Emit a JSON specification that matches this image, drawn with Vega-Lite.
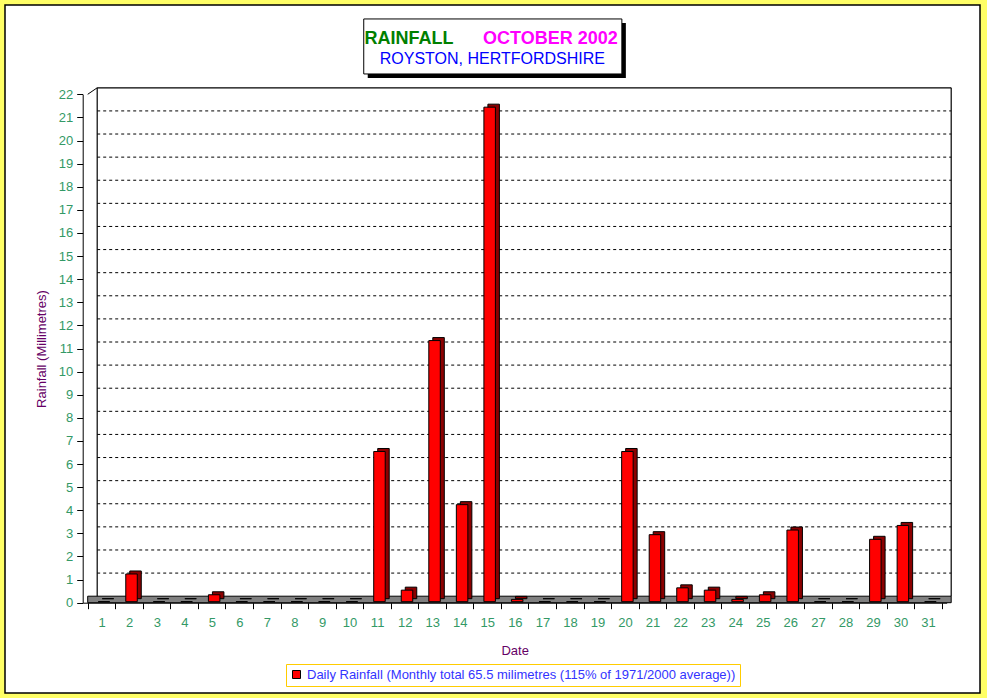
{
  "$schema": "https://vega.github.io/schema/vega-lite/v6.json",
  "width": 975,
  "height": 688,
  "autosize": "none",
  "padding": {"left": 5, "top": 5, "right": 7, "bottom": 5},
  "background": "#FFFF66",
  "config": {
    "view": {"fill": "white", "stroke": "black", "strokeWidth": 1.5},
    "font": "Liberation Sans",
    "axis": {"labelOverlap": false}
  },
  "datasets": {
    "rain": [
      {"day": 1, "mm": 0}, {"day": 2, "mm": 1.2}, {"day": 3, "mm": 0}, {"day": 4, "mm": 0},
      {"day": 5, "mm": 0.3}, {"day": 6, "mm": 0}, {"day": 7, "mm": 0}, {"day": 8, "mm": 0},
      {"day": 9, "mm": 0}, {"day": 10, "mm": 0}, {"day": 11, "mm": 6.5}, {"day": 12, "mm": 0.5},
      {"day": 13, "mm": 11.3}, {"day": 14, "mm": 4.2}, {"day": 15, "mm": 21.4}, {"day": 16, "mm": 0.1},
      {"day": 17, "mm": 0}, {"day": 18, "mm": 0}, {"day": 19, "mm": 0}, {"day": 20, "mm": 6.5},
      {"day": 21, "mm": 2.9}, {"day": 22, "mm": 0.6}, {"day": 23, "mm": 0.5}, {"day": 24, "mm": 0.1},
      {"day": 25, "mm": 0.3}, {"day": 26, "mm": 3.1}, {"day": 27, "mm": 0}, {"day": 28, "mm": 0},
      {"day": 29, "mm": 2.7}, {"day": 30, "mm": 3.3}, {"day": 31, "mm": 0}
    ],
    "grid": [
      {"v": 1}, {"v": 2}, {"v": 3}, {"v": 4}, {"v": 5}, {"v": 6}, {"v": 7}, {"v": 8}, {"v": 9}, {"v": 10},
      {"v": 11}, {"v": 12}, {"v": 13}, {"v": 14}, {"v": 15}, {"v": 16}, {"v": 17}, {"v": 18}, {"v": 19}, {"v": 20}, {"v": 21}
    ],
    "one": [{}]
  },
  "layer": [
    {
      "data": {"name": "rain"},
      "mark": {"type": "bar", "width": 11.5, "xOffset": 2.5, "opacity": 0},
      "encoding": {
        "x": {
          "field": "day", "type": "quantitative", "title": "Date",
          "scale": {"domain": [0.5, 31.5], "range": [77.7, 941.7], "nice": false, "zero": false},
          "axis": {
            "offset": -90.3,
            "values": [0.5, 1.5, 2.5, 3.5, 4.5, 5.5, 6.5, 7.5, 8.5, 9.5, 10.5, 11.5, 12.5, 13.5, 14.5, 15.5, 16.5, 17.5, 18.5, 19.5, 20.5, 21.5, 22.5, 23.5, 24.5, 25.5, 26.5, 27.5, 28.5, 29.5, 30.5, 31.5],
            "tickCount": 100,
            "labelExpr": "datum.value < 31 ? format(datum.value + 0.5, 'd') : ''",
            "labelOffset": 13.94,
            "labelFlush": false,
            "labelOverlap": false,
            "labelBound": false,
            "labelAngle": 0,
            "labelColor": "#339966",
            "labelFontSize": 13,
            "labelPadding": 8,
            "tickSize": 6,
            "tickColor": "black",
            "domainColor": "black",
            "grid": false,
            "titleColor": "#660066",
            "titleFontSize": 13,
            "titleFontWeight": "normal",
            "titlePadding": 15
          }
        },
        "y": {
          "field": "mm", "type": "quantitative", "title": "Rainfall  (Millimetres)",
          "scale": {"domain": [0, 22], "range": [597.7, 89.3], "nice": false},
          "axis": {
            "offset": -77.7,
            "values": [0, 1, 2, 3, 4, 5, 6, 7, 8, 9, 10, 11, 12, 13, 14, 15, 16, 17, 18, 19, 20, 21, 22],
            "tickCount": 100,
            "format": "d",
            "labelOverlap": false,
            "labelColor": "#339966",
            "labelFontSize": 13,
            "labelPadding": 4,
            "tickSize": 6,
            "tickColor": "black",
            "domainColor": "black",
            "grid": false,
            "titleColor": "#660066",
            "titleFontSize": 13,
            "titleFontWeight": "normal",
            "titlePadding": 10
          }
        }
      }
    },
    {
      "data": {"name": "one"},
      "mark": {"type": "rect", "fill": "#808080", "stroke": "black", "strokeWidth": 1, "x2Offset": 9.5, "yOffset": -6.5},
      "encoding": {
        "x": {"datum": 0.5, "type": "quantitative"},
        "x2": {"datum": 31.5},
        "y": {"datum": 0, "type": "quantitative"},
        "y2": {"datum": 0}
      }
    },
    {
      "data": {"name": "grid"},
      "mark": {"type": "rule", "stroke": "black", "strokeWidth": 1, "strokeDash": [3, 3], "xOffset": 9.5, "x2Offset": 9.5, "yOffset": -6.5},
      "encoding": {
        "x": {"datum": 0.5, "type": "quantitative"},
        "x2": {"datum": 31.5},
        "y": {"field": "v", "type": "quantitative", "title": "Rainfall  (Millimetres)"}
      }
    },
    {
      "data": {"name": "one"},
      "mark": {"type": "rule", "stroke": "black", "strokeWidth": 1.2, "xOffset": 9.5, "x2Offset": 9.5, "yOffset": -6.5},
      "encoding": {
        "x": {"datum": 0.5, "type": "quantitative"},
        "x2": {"datum": 31.5},
        "y": {"datum": 22, "type": "quantitative"}
      }
    },
    {
      "data": {"name": "one"},
      "mark": {"type": "rule", "stroke": "black", "strokeWidth": 1.2, "xOffset": 9.5, "yOffset": -6.5, "y2Offset": -6.5},
      "encoding": {
        "x": {"datum": 0.5, "type": "quantitative"},
        "y": {"datum": 0, "type": "quantitative"},
        "y2": {"datum": 22}
      }
    },
    {
      "data": {"name": "one"},
      "mark": {"type": "rule", "stroke": "black", "strokeWidth": 1.2, "xOffset": 9.5, "yOffset": -6.5, "y2Offset": -6.5},
      "encoding": {
        "x": {"datum": 31.5, "type": "quantitative"},
        "y": {"datum": 0, "type": "quantitative"},
        "y2": {"datum": 22}
      }
    },
    {
      "data": {"name": "one"},
      "mark": {"type": "rule", "stroke": "black", "strokeWidth": 1, "x2Offset": 9.5, "y2Offset": -6.5},
      "encoding": {
        "x": {"datum": 0.5, "type": "quantitative"},
        "x2": {"datum": 0.5},
        "y": {"datum": 22, "type": "quantitative"},
        "y2": {"datum": 22}
      }
    },
    {
      "data": {"name": "rain"},
      "mark": {"type": "bar", "width": 11.5, "fill": "#8B0000", "stroke": "black", "strokeWidth": 1, "xOffset": 6.5, "yOffset": -4, "y2Offset": -4},
      "encoding": {
        "x": {"field": "day", "type": "quantitative", "title": "Date"},
        "y": {"field": "mm", "type": "quantitative", "title": "Rainfall  (Millimetres)"}
      }
    },
    {
      "data": {"name": "rain"},
      "mark": {"type": "bar", "width": 11.5, "stroke": "black", "strokeWidth": 1, "xOffset": 2.5, "yOffset": -1, "y2Offset": -1},
      "encoding": {
        "x": {"field": "day", "type": "quantitative", "title": "Date"},
        "y": {"field": "mm", "type": "quantitative", "title": "Rainfall  (Millimetres)"},
        "color": {
          "datum": "Daily Rainfall (Monthly total 65.5 milimetres (115% of 1971/2000 average))",
          "scale": {"range": ["#FF0000"]},
          "legend": {
            "orient": "none",
            "legendX": 281,
            "legendY": 659,
            "title": null,
            "strokeColor": "#FFCC00",
            "fillColor": "white",
            "padding": 4,
            "symbolType": "square",
            "symbolSize": 64,
            "symbolStrokeColor": "black",
            "symbolStrokeWidth": 1,
            "symbolFillColor": "#FF0000",
            "labelColor": "#3333FF",
            "labelFontSize": 13,
            "labelLimit": 700,
            "labelOffset": 4
          }
        }
      }
    },
    {
      "data": {"name": "one"},
      "mark": {"type": "rect", "fill": "black", "xOffset": 4, "x2Offset": 4, "yOffset": 4, "y2Offset": 4},
      "encoding": {
        "x": {"datum": 10.52, "type": "quantitative"},
        "x2": {"datum": 19.89},
        "y": {"datum": 25.26, "type": "quantitative"},
        "y2": {"datum": 22.88}
      }
    },
    {
      "data": {"name": "one"},
      "mark": {"type": "rect", "fill": "white", "stroke": "black", "strokeWidth": 1},
      "encoding": {
        "x": {"datum": 10.52, "type": "quantitative"},
        "x2": {"datum": 19.89},
        "y": {"datum": 25.26, "type": "quantitative"},
        "y2": {"datum": 22.88}
      }
    },
    {
      "data": {"name": "one"},
      "mark": {"type": "text", "align": "left", "baseline": "alphabetic", "fill": "#008000", "fontSize": 18, "fontWeight": "bold"},
      "encoding": {
        "x": {"datum": 10.55, "type": "quantitative"},
        "y": {"datum": 24.18, "type": "quantitative"},
        "text": {"value": "RAINFALL"}
      }
    },
    {
      "data": {"name": "one"},
      "mark": {"type": "text", "align": "right", "baseline": "alphabetic", "fill": "#FF00FF", "fontSize": 18, "fontWeight": "bold"},
      "encoding": {
        "x": {"datum": 19.74, "type": "quantitative"},
        "y": {"datum": 24.18, "type": "quantitative"},
        "text": {"value": "OCTOBER 2002"}
      }
    },
    {
      "data": {"name": "one"},
      "mark": {"type": "text", "align": "center", "baseline": "alphabetic", "fill": "#0000FF", "fontSize": 16},
      "encoding": {
        "x": {"datum": 15.19, "type": "quantitative"},
        "y": {"datum": 23.31, "type": "quantitative"},
        "text": {"value": "ROYSTON, HERTFORDSHIRE"}
      }
    }
  ]
}
